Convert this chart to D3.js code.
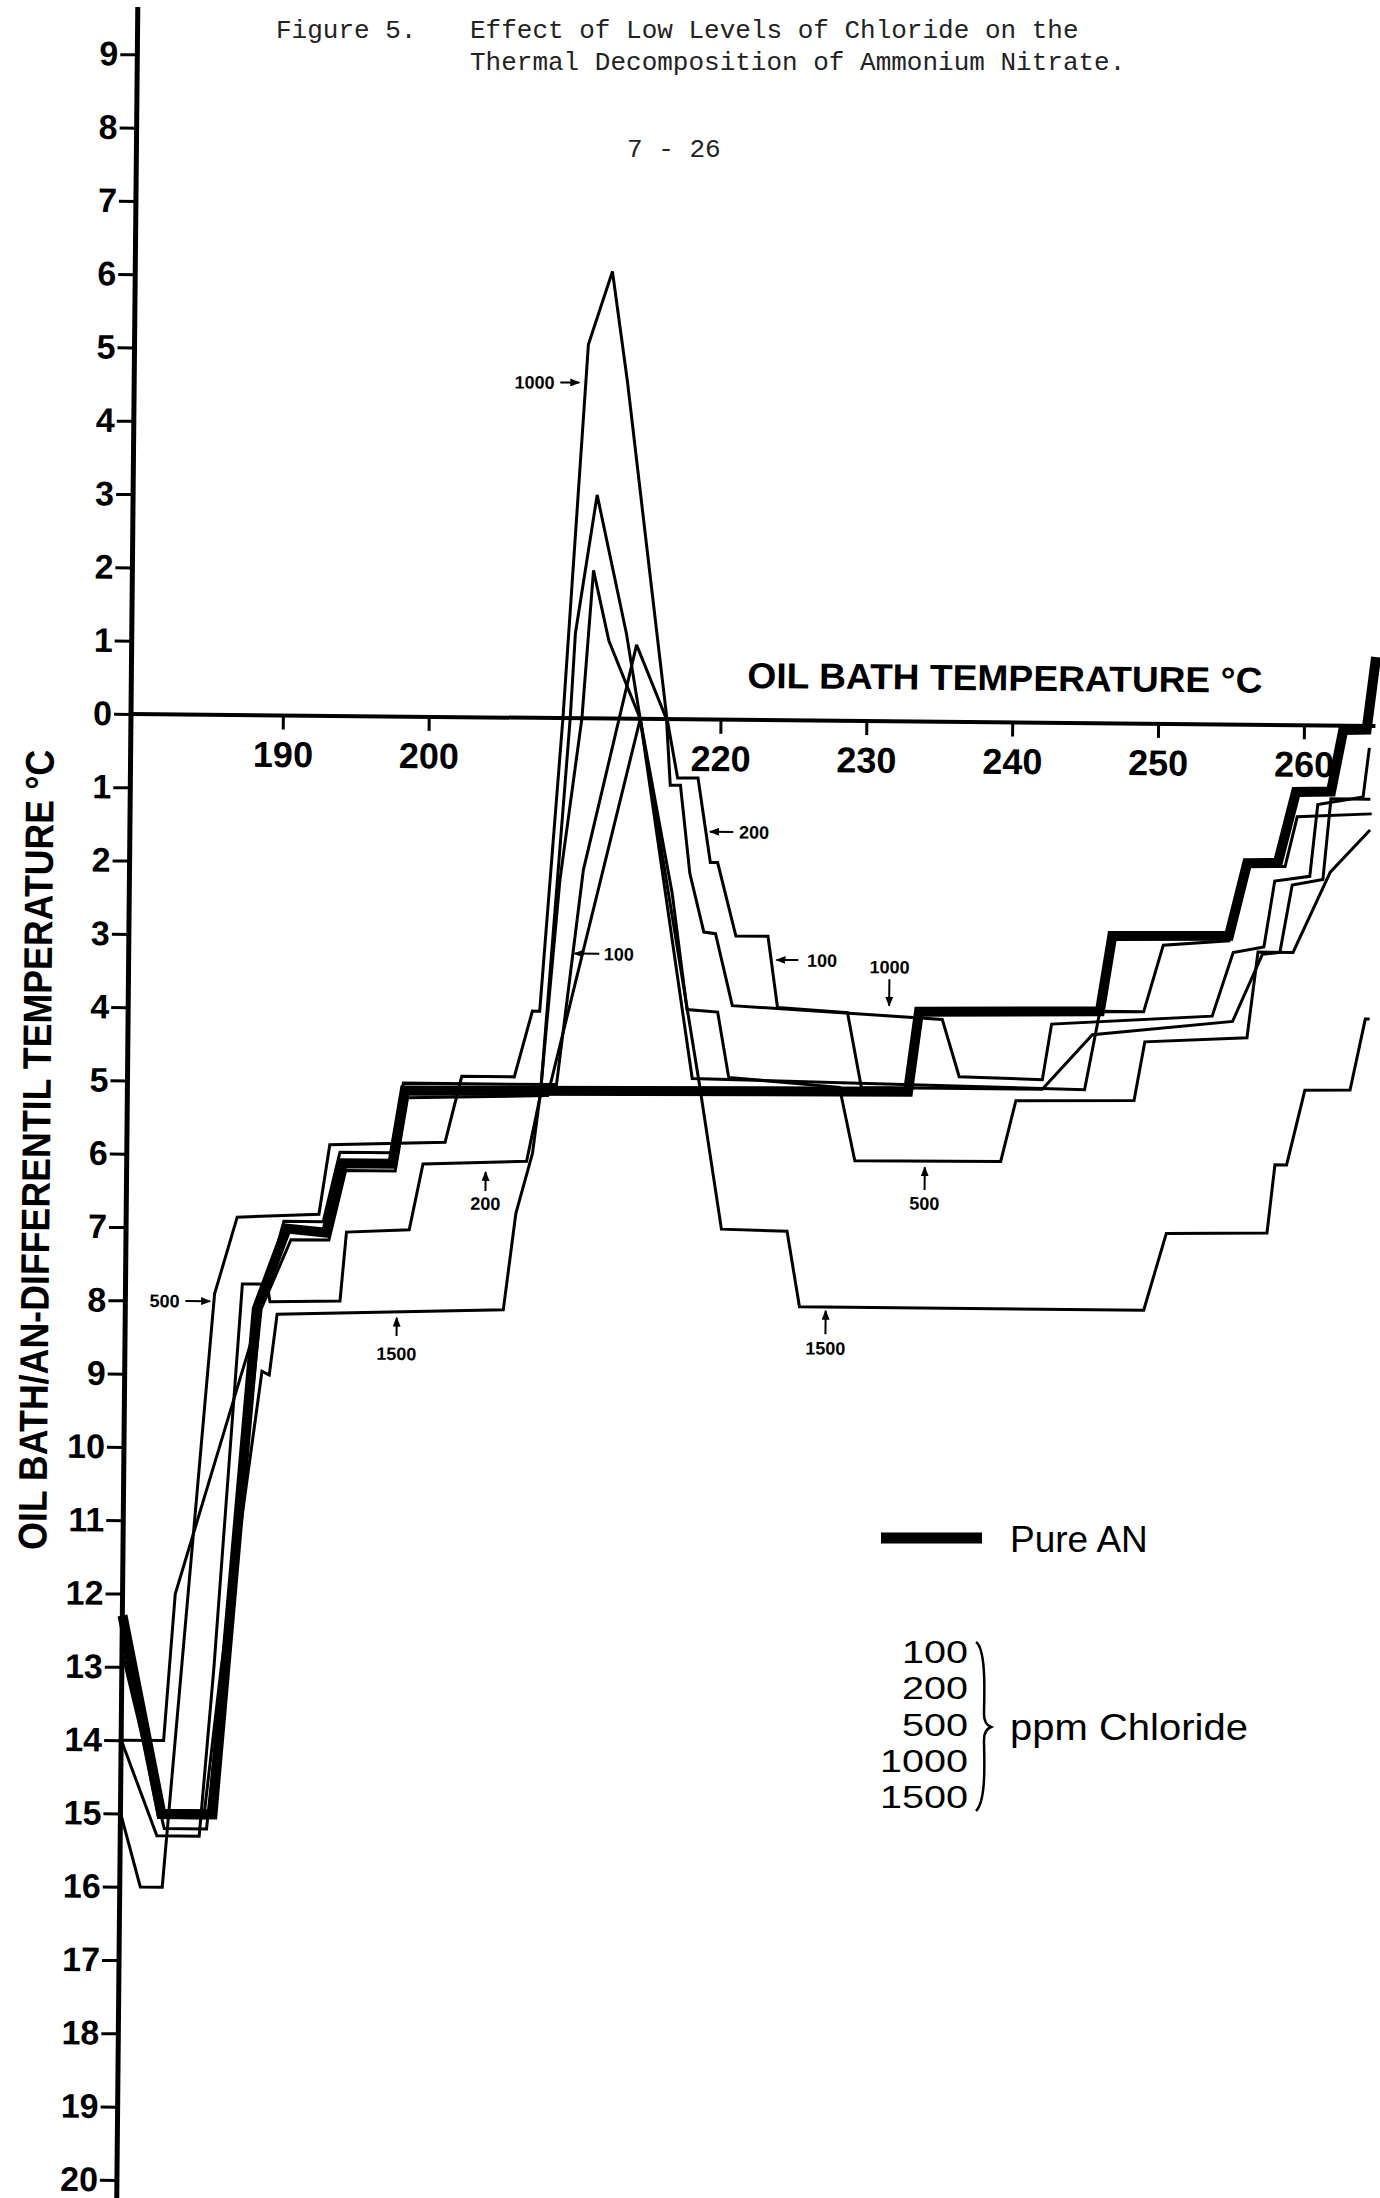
<!DOCTYPE html>
<html>
<head>
<meta charset="utf-8">
<script src="https://cdn.jsdelivr.net/npm/d3@7"></script>
<style>
body { margin: 0; background: #fff; }
</style>
</head>
<body>
<script>
// Figure 5: oil bath / AN differential temperature against oil bath temperature
// temperatures in deg C, differential in deg C (negative = below the zero line)

var xTicks = [190, 200, 220, 230, 240, 250, 260];
var yTicks = [9, 8, 7, 6, 5, 4, 3, 2, 1, 0, -1, -2, -3, -4, -5, -6, -7, -8, -9, -10,
              -11, -12, -13, -14, -15, -16, -17, -18, -19, -20];

// Pure AN (heavy line)
var pureT = [179.6, 182.4, 185.9, 188.6, 190.6, 193.3, 194.4, 197.8, 198.6, 233.1, 233.8,
             246.2, 247.0, 255.0, 256.2, 258.3, 259.5, 261.9, 262.7, 264.3, 264.9];
var pureV = [-12.3, -15.0, -15.0, -8.1, -7.0, -7.05, -6.1, -6.1, -5.1, -5.05, -3.96,
             -3.93, -2.9, -2.88, -1.89, -1.88, -0.91, -0.9, -0.06, -0.05, 0.94];

// 100 ppm chloride
var t100 = [179.6, 182.5, 183.2, 188.6, 190.4, 193.1, 194.2, 197.7, 198.5, 209.0, 210.7,
            214.2, 216.3, 216.6, 217.3, 218.0, 219.0, 219.8, 221.0, 235.4, 236.6, 242.3,
            242.9, 253.9, 255.3, 257.4, 258.1, 260.5, 261.0, 264.1, 264.5];
var v100 = [-14.0, -14.0, -12.0, -8.3, -6.9, -6.9, -5.95, -5.95, -5.0, -5.0, -2.07,
            1.01, 0, -0.9, -0.9, -2.1, -2.9, -2.92, -3.9, -4.06, -4.84, -4.87,
            -4.11, -3.98, -3.11, -3.03, -2.13, -2.06, -1.08, -0.97, -0.3];

// 200 ppm chloride
var t200 = [179.6, 182.6, 185.5, 188.9, 190.9, 193.5, 194.6, 198.0, 198.8, 208.4, 214.5,
            218.3, 245.2, 246.2, 249.2, 250.5, 255.0, 256.1, 258.8, 259.6, 264.7];
var v200 = [-12.8, -15.2, -15.2, -8.1, -7.15, -7.15, -6.2, -6.2, -5.2, -5.15, 0,
            -4.9, -5.0, -3.93, -3.93, -3.02, -2.95, -1.93, -1.93, -1.25, -1.2];

// 500 ppm chloride
var t500 = [179.6, 182.1, 185.0, 185.9, 187.6, 189.3, 189.5, 194.3, 194.7, 199.0, 199.9,
            207.0, 207.9, 209.7, 210.0, 211.4, 213.5, 214.5, 216.8, 217.9, 220.0, 220.8,
            228.4, 229.5, 239.5, 240.5, 248.6, 249.3, 256.3, 257.0, 259.4, 261.9, 264.6];
var v500 = [-14.0, -15.3, -15.3, -13.0, -7.76, -7.76, -8.0, -7.98, -7.04, -7.0, -6.1,
            -6.05, -5.15, 0, 1.16, 3.05, 1.16, 0, -2.37, -3.96, -3.99, -4.88,
            -5.0, -6.0, -5.99, -5.16, -5.14, -4.34, -4.27, -3.1, -3.1, -2.0, -1.42];

// 1000 ppm chloride
var t1000 = [179.6, 181.0, 182.5, 185.7, 187.2, 192.8, 193.5, 201.4, 202.5, 206.1, 207.3,
             207.8, 209.2, 210.7, 212.3, 213.4, 214.8, 216.3, 217.1, 218.5, 219.4, 219.9,
             221.2, 223.4, 224.1, 228.9, 229.9, 242.3, 245.7, 255.3, 257.3, 258.5, 259.3,
             261.4, 261.9, 264.6];
var v1000 = [-15.0, -16.0, -16.0, -7.9, -6.85, -6.8, -5.85, -5.8, -4.9, -4.9, -4.0,
             -4.0, 0, 5.1, 6.1, 4.6, 2.4, 0.05, -0.8, -0.8, -1.95, -1.95,
             -2.95, -2.95, -3.92, -3.98, -5.0, -5.0, -4.25, -4.05, -3.13, -3.1, -2.18,
             -2.1, -1.0, -1.0];

// 1500 ppm chloride
var t1500 = [179.6, 182.2, 185.3, 186.4, 189.0, 189.5, 190.0, 205.5, 206.3, 207.4, 207.9,
             209.1, 210.5, 211.2, 212.3, 214.5, 218.8, 220.4, 224.9, 225.8, 249.4, 250.9,
             257.8, 258.3, 259.1, 260.3, 263.4, 264.4, 264.7];
var v1500 = [-12.6, -15.05, -15.05, -13.0, -8.95, -9.0, -8.17, -8.08, -6.76, -5.94, -5.12,
             -2.21, 0, 2.02, 1.06, 0, -4.98, -6.95, -6.97, -8.0, -8.0, -6.95,
             -6.93, -6.0, -6.0, -4.98, -4.97, -4.0, -4.0];

var legendPpm = ["100", "200", "500", "1000", "1500"];

// little labels written on the curves: text, where it sits, and its arrow
var notes = [
	{"text": "1000", "t": 208.4, "v": 4.58, "anchor": "end", "a": [208.8, 4.58, 210.1, 4.58]},
	{"text": "500", "t": 183.3, "v": -8.0, "anchor": "end", "a": [183.7, -8.0, 185.4, -8.0]},
	{"text": "1500", "t": 198.2, "v": -8.69, "anchor": "middle", "a": [198.2, -8.45, 198.2, -8.2]},
	{"text": "200", "t": 204.2, "v": -6.63, "anchor": "middle", "a": [204.2, -6.46, 204.2, -6.2]},
	{"text": "100", "t": 212.15, "v": -3.21, "anchor": "start", "a": [211.85, -3.21, 210.15, -3.21]},
	{"text": "200", "t": 221.35, "v": -1.53, "anchor": "start", "a": [220.95, -1.53, 219.35, -1.53]},
	{"text": "100", "t": 226.1, "v": -3.27, "anchor": "start", "a": [225.5, -3.27, 224.0, -3.27]},
	{"text": "1000", "t": 231.75, "v": -3.35, "anchor": "middle", "a": [231.75, -3.52, 231.75, -3.88]},
	{"text": "500", "t": 234.3, "v": -6.57, "anchor": "middle", "a": [234.3, -6.39, 234.3, -6.08]},
	{"text": "1500", "t": 227.6, "v": -8.56, "anchor": "middle", "a": [227.6, -8.37, 227.6, -8.05]}
];

var sans = "'Liberation Sans', Arial, sans-serif";
var mono = "'Liberation Mono', 'DejaVu Sans Mono', monospace";

var svg = d3.select("body")
			.append("svg")
			.attr("width", 1380)
			.attr("height", 2198)
			.style("background", "#fff");

var defs = svg.append("defs");
defs.append("marker")
	.attr("id", "head")
	.attr("markerUnits", "userSpaceOnUse")
	.attr("markerWidth", 10)
	.attr("markerHeight", 8)
	.attr("refX", 9)
	.attr("refY", 4)
	.attr("orient", "auto")
	.append("path")
	.attr("d", "M0,0 L10,4 L0,8 Z")
	.attr("fill", "#000");

// typed heading
svg.append("text").attr("x", 276).attr("y", 38).text("Figure 5.")
	.style("font-family", mono).style("font-size", "26px").attr("fill", "#222");
svg.append("text").attr("x", 470).attr("y", 38).text("Effect of Low Levels of Chloride on the")
	.style("font-family", mono).style("font-size", "26px").attr("fill", "#222");
svg.append("text").attr("x", 470).attr("y", 70).text("Thermal Decomposition of Ammonium Nitrate.")
	.style("font-family", mono).style("font-size", "26px").attr("fill", "#222");
svg.append("text").attr("x", 627).attr("y", 157).text("7 - 26")
	.style("font-family", mono).style("font-size", "26px").attr("fill", "#222");

var x = d3.scaleLinear().domain([180, 260]).range([137, 1304]);
var y = d3.scaleLinear().domain([0, -20]).range([714, 2180]);

// the scanned page sits a little turned, so the plot is turned with it
var plot = svg.append("g").attr("transform", "rotate(0.55,131,714)");

// y axis
var yAxis = plot.append("g")
				.attr("transform", "translate(131,0)")
				.call(d3.axisLeft(y).tickValues(yTicks)
					.tickFormat(function(d){return Math.abs(d);})
					.tickSize(17).tickPadding(2));
yAxis.select(".domain").remove();
yAxis.selectAll(".tick line").attr("stroke", "#000").attr("stroke-width", 3);
yAxis.selectAll(".tick text")
	.style("font-family", sans).style("font-size", "34px").style("font-weight", "bold")
	.attr("fill", "#000");
plot.append("line")
	.attr("x1", 131).attr("y1", 7).attr("x2", 131).attr("y2", 2198)
	.attr("stroke", "#000").attr("stroke-width", 5);

// x axis on the zero line
var xAxis = plot.append("g")
				.attr("transform", "translate(0,714)")
				.call(d3.axisBottom(x).tickValues(xTicks).tickFormat(d3.format("d"))
					.tickSize(14).tickPadding(12));
xAxis.select(".domain").remove();
xAxis.selectAll(".tick line").attr("stroke", "#000").attr("stroke-width", 3);
xAxis.selectAll(".tick text")
	.style("font-family", sans).style("font-size", "36px").style("font-weight", "bold")
	.attr("fill", "#000");
plot.append("line")
	.attr("x1", 131).attr("y1", 714).attr("x2", x(264.9)).attr("y2", 714)
	.attr("stroke", "#000").attr("stroke-width", 4);

plot.append("text")
	.attr("x", 747).attr("y", 682)
	.attr("textLength", 515).attr("lengthAdjust", "spacingAndGlyphs")
	.text("OIL BATH TEMPERATURE °C")
	.style("font-family", sans).style("font-size", "36px").style("font-weight", "bold");

// curves
var line = d3.line()
			.x(function(d){return x(d[0]);})
			.y(function(d){return y(d[1]);});

var series = [
	{"name": "100", "t": t100, "v": v100, "w": 3},
	{"name": "200", "t": t200, "v": v200, "w": 3},
	{"name": "500", "t": t500, "v": v500, "w": 3},
	{"name": "1000", "t": t1000, "v": v1000, "w": 3},
	{"name": "1500", "t": t1500, "v": v1500, "w": 3},
	{"name": "Pure AN", "t": pureT, "v": pureV, "w": 10}
];

plot.selectAll("path.curve")
	.data(series)
	.enter()
	.append("path")
	.attr("class", "curve")
	.attr("d", function(s){return line(d3.zip(s.t, s.v));})
	.attr("fill", "none")
	.attr("stroke", "#000")
	.attr("stroke-width", function(s){return s.w;})
	.attr("stroke-linejoin", "miter")
	.attr("stroke-miterlimit", 3);

// labels on the curves
var note = plot.selectAll("g.note")
				.data(notes)
				.enter()
				.append("g")
				.attr("class", "note");
note.append("text")
	.attr("x", function(d){return x(d.t);})
	.attr("y", function(d){return y(d.v);})
	.attr("dy", "0.36em")
	.attr("text-anchor", function(d){return d.anchor;})
	.text(function(d){return d.text;})
	.style("font-family", sans).style("font-size", "18px").style("font-weight", "bold");
note.append("line")
	.attr("x1", function(d){return x(d.a[0]);})
	.attr("y1", function(d){return y(d.a[1]);})
	.attr("x2", function(d){return x(d.a[2]);})
	.attr("y2", function(d){return y(d.a[3]);})
	.attr("stroke", "#000")
	.attr("stroke-width", 2)
	.attr("marker-end", "url(#head)");

// y axis title
svg.append("text")
	.attr("transform", "translate(50,1150) rotate(-89.45)")
	.attr("text-anchor", "middle")
	.attr("textLength", 800).attr("lengthAdjust", "spacingAndGlyphs")
	.text("OIL BATH/AN-DIFFERENTIL TEMPERATURE °C")
	.style("font-family", sans).style("font-size", "40px").style("font-weight", "bold");

// legend
svg.append("line")
	.attr("x1", 881).attr("y1", 1538).attr("x2", 982).attr("y2", 1538)
	.attr("stroke", "#000").attr("stroke-width", 11);
svg.append("text").attr("x", 1010).attr("y", 1552).text("Pure AN")
	.style("font-family", sans).style("font-size", "37px");

svg.selectAll("text.ppm")
	.data(legendPpm)
	.enter()
	.append("text")
	.attr("class", "ppm")
	.attr("x", 968)
	.attr("y", function(d, i){return 1663 + i * 36.3;})
	.attr("text-anchor", "end")
	.attr("textLength", function(d){return d.length * 22;})
	.attr("lengthAdjust", "spacingAndGlyphs")
	.text(function(d){return d;})
	.style("font-family", sans).style("font-size", "31px");

svg.append("path")
	.attr("d", "M976,1642 C987,1650 984,1700 984,1714 C984,1721 986,1725 991,1727 C986,1729 984,1733 984,1740 C984,1756 987,1800 976,1811")
	.attr("fill", "none").attr("stroke", "#000").attr("stroke-width", 2.5);

svg.append("text").attr("x", 1010).attr("y", 1740)
	.attr("textLength", 238).attr("lengthAdjust", "spacingAndGlyphs")
	.text("ppm Chloride")
	.style("font-family", sans).style("font-size", "37px");
</script>
</body>
</html>
